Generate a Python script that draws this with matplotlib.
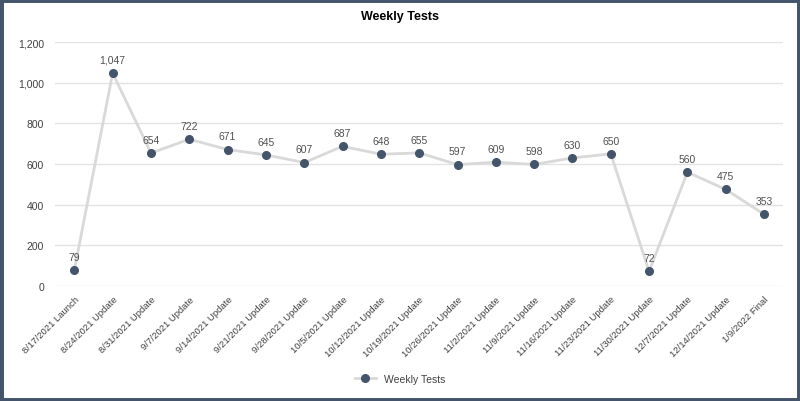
import matplotlib
matplotlib.use("Agg")

import matplotlib.pyplot as plt
from matplotlib.patches import Rectangle

labels = [
    "8/17/2021 Launch", "8/24/2021 Update", "8/31/2021 Update", "9/7/2021 Update",
    "9/14/2021 Update", "9/21/2021 Update", "9/28/2021 Update", "10/5/2021 Update",
    "10/12/2021 Update", "10/19/2021 Update", "10/26/2021 Update", "11/2/2021 Update",
    "11/9/2021 Update", "11/16/2021 Update", "11/23/2021 Update", "11/30/2021 Update",
    "12/7/2021 Update", "12/14/2021 Update", "1/9/2022 Final",
]
weekly_tests = [79, 1047, 654, 722, 671, 645, 607, 687, 648, 655,
                597, 609, 598, 630, 650, 72, 560, 475, 353]
yticks = [0, 200, 400, 600, 800, 1000, 1200]

plt.rcParams["font.family"] = ["Liberation Sans", "DejaVu Sans"]

fig = plt.figure(figsize=(8, 4.02), dpi=100)
ax = fig.add_axes([0.069, 0.286, 0.91, 0.607])

x = list(range(len(weekly_tests)))
ax.plot(x, weekly_tests, color="#d9d9d9", linewidth=2.0, marker="o",
        markersize=5.5, markerfacecolor="#44546a", markeredgecolor="#44546a",
        label="Weekly Tests", zorder=3)

# data labels above each point
for xi, v in zip(x, weekly_tests):
    ax.annotate(f"{v:,}", (xi, v), xytext=(0, 6), textcoords="offset points",
                ha="center", va="bottom", fontsize=7.5, color="#505050")

ax.set_xlim(-0.5, len(weekly_tests) - 0.5)
ax.set_ylim(0, 1200)
ax.set_yticks(yticks)
ax.set_yticklabels([f"{t:,}" for t in yticks])
ax.set_xticks(x)
ax.set_xticklabels(labels, rotation=45, ha="right", rotation_mode="anchor")
ax.tick_params(axis="both", length=0, labelcolor="#404040")
ax.tick_params(axis="y", labelsize=7.5, pad=8)
ax.tick_params(axis="x", labelsize=6.8, pad=6)
ax.grid(axis="y", color="#e3e3e3", linewidth=1)
ax.set_axisbelow(True)
for s in ax.spines.values():
    s.set_visible(False)

fig.text(0.5, 0.957, "Weekly Tests", ha="center", va="center",
         fontsize=9, fontweight="bold", color="#000000")

fig.legend(loc="center", bbox_to_anchor=(0.5, 0.055), frameon=False,
           fontsize=7.5, labelcolor="#404040", handlelength=2.0)

# dark frame around the whole picture
fig.patches.append(Rectangle((0, 0), 1, 1, transform=fig.transFigure,
                             fill=False, edgecolor="#44546a", linewidth=5))

fig.savefig("out.png", dpi=100)
